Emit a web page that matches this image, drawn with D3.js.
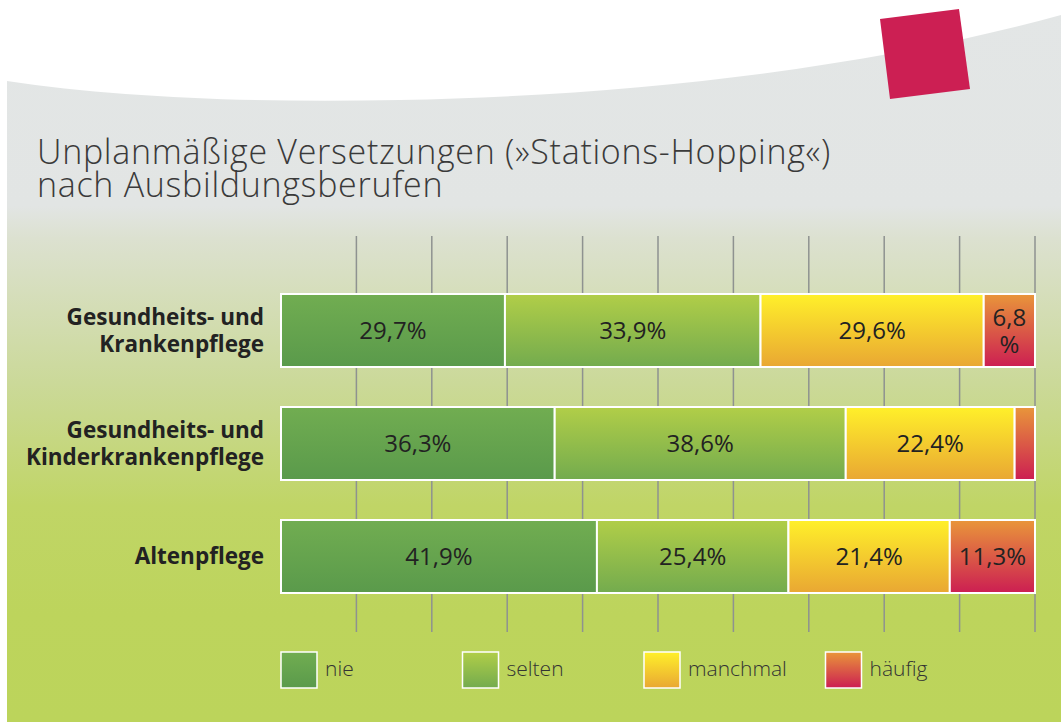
<!DOCTYPE html>
<html>
<head>
<meta charset="utf-8">
<script src="https://cdn.jsdelivr.net/npm/d3@7"></script>
<style>
  body { margin: 0; background: #fff; }
  svg { display: block; font-family: "Open Sans", "Noto Sans", sans-serif; }
</style>
</head>
<body>
<svg id="chart"></svg>
<script>
// data
var categories = ["Gesundheits- und Krankenpflege", "Gesundheits- und Kinderkrankenpflege", "Altenpflege"];
var catLines = [["Gesundheits- und", "Krankenpflege"], ["Gesundheits- und", "Kinderkrankenpflege"], ["Altenpflege"]];
var keys = ["nie", "selten", "manchmal", "häufig"];
var nie = [29.7, 36.3, 41.9];
var selten = [33.9, 38.6, 25.4];
var manchmal = [29.6, 22.4, 21.4];
var haeufig = [6.8, 2.7, 11.3];
var gridTicks = [10, 20, 30, 40, 50, 60, 70, 80, 90, 100];

var svgWidth = 1061;
var svgHeight = 722;

var colors = {
  "nie": ["#71ad51", "#5a9a4b"],
  "selten": ["#b1ce48", "#73ab4e"],
  "manchmal": ["#fff02a", "#e9a733"],
  "häufig": ["#e9963a", "#cc1e52"]
};

var svg = d3.select("#chart")
  .attr("width", svgWidth)
  .attr("height", svgHeight);

var defs = svg.append("defs");

// background gradient, grey at the top to green
var bg = defs.append("linearGradient")
  .attr("id", "bg")
  .attr("gradientUnits", "userSpaceOnUse")
  .attr("x1", 0).attr("y1", 0).attr("x2", 0).attr("y2", svgHeight);
[[0, "#e3e6e6"], [0.285, "#e2e5e4"], [0.33, "#dce1d0"], [0.53, "#cbd999"], [0.7, "#c0d566"], [0.85, "#bdd45c"], [1, "#bcd45b"]]
  .forEach(function(s) {
    bg.append("stop").attr("offset", s[0]).attr("stop-color", s[1]);
  });

keys.forEach(function(k, i) {
  var g = defs.append("linearGradient")
    .attr("id", "grad" + i)
    .attr("x1", 0).attr("y1", 0).attr("x2", 0).attr("y2", 1);
  g.append("stop").attr("offset", 0).attr("stop-color", colors[k][0]);
  g.append("stop").attr("offset", 1).attr("stop-color", colors[k][1]);
});

// curved panel
svg.append("path")
  .attr("d", "M7,81 C120,98 260,103 400,100 C650,95 880,65 1061,15 L1061,722 L7,722 Z")
  .attr("fill", "url(#bg)");

// red square top right
svg.append("path")
  .attr("d", "M880,19 L959,9 L970,89 L890,99 Z")
  .attr("fill", "#cc1f53");

// title
var title = svg.append("text")
  .attr("x", 37)
  .attr("y", 164)
  .attr("font-size", 34)
  .attr("font-weight", 300)
  .attr("letter-spacing", 0.7)
  .attr("fill", "#3a3a3a");
title.append("tspan").attr("x", 37).text("Unplanmäßige Versetzungen (»Stations-Hopping«)");
title.append("tspan").attr("x", 37).attr("dy", 33).text("nach Ausbildungsberufen");

// build rows for the stack
var rows = categories.map(function(c, i) {
  return { cat: c, "nie": nie[i], "selten": selten[i], "manchmal": manchmal[i], "häufig": haeufig[i] };
});
var series = d3.stack().keys(keys)(rows);

var x = d3.scaleLinear().domain([0, 100]).range([281, 1035]);
var y = d3.scaleBand()
  .domain(categories)
  .range([274, 613])
  .paddingInner(0.354)
  .paddingOuter(0.177);

// grid lines
svg.append("g")
  .selectAll("line")
  .data(gridTicks)
  .enter()
  .append("line")
  .attr("x1", d => x(d))
  .attr("x2", d => x(d))
  .attr("y1", 236)
  .attr("y2", 632)
  .attr("stroke", "#8e9290")
  .attr("stroke-width", 1.5);

// bars
var fmt = d3.format(".1f");
var layers = svg.append("g")
  .selectAll("g")
  .data(series)
  .enter()
  .append("g")
  .attr("fill", (d, i) => "url(#grad" + i + ")");

layers.selectAll("rect")
  .data(d => d.map(function(p) { p.key = d.key; return p; }))
  .enter()
  .append("rect")
  .attr("x", d => x(d[0]))
  .attr("y", d => y(d.data.cat))
  .attr("width", d => x(d[1]) - x(d[0]))
  .attr("height", y.bandwidth())
  .attr("stroke", "#ffffff")
  .attr("stroke-width", 2);

// value labels
layers.each(function(s) {
  var g = d3.select(this);
  s.forEach(function(p) {
    var w = x(p[1]) - x(p[0]);
    if (w < 30) return;
    var cx = (x(p[0]) + x(p[1])) / 2;
    var cy = y(p.data.cat) + y.bandwidth() / 2;
    var label = fmt(p[1] - p[0]).replace(".", ",");
    var t = g.append("text")
      .attr("text-anchor", "middle")
      .attr("font-size", 24)
      .attr("fill", "#222222");
    if (w < 75) {
      t.append("tspan").attr("x", cx).attr("y", cy - 5).text(label);
      t.append("tspan").attr("x", cx).attr("y", cy + 22).text("%");
    } else {
      t.attr("x", cx).attr("y", cy + 8.5).text(label + "%");
    }
  });
});

// category labels
categories.forEach(function(c, i) {
  var lines = catLines[i];
  var cy = y(c) + y.bandwidth() / 2;
  var t = svg.append("text")
    .attr("text-anchor", "end")
    .attr("font-size", 22.5)
    .attr("font-weight", "bold")
    .attr("fill", "#222222");
  var start = cy + 7.5 - (lines.length - 1) * 13.5;
  lines.forEach(function(l, j) {
    t.append("tspan").attr("x", 264).attr("y", start + j * 27).text(l);
  });
});

// legend
var legend = svg.append("g")
  .selectAll("g")
  .data(keys)
  .enter()
  .append("g")
  .attr("transform", (d, i) => `translate(${281 + i * 181.5}, 652)`);

legend.append("rect")
  .attr("width", 36)
  .attr("height", 36)
  .attr("fill", (d, i) => "url(#grad" + i + ")")
  .attr("stroke", "#ffffff")
  .attr("stroke-width", 1.5);

legend.append("text")
  .attr("x", 44)
  .attr("y", 24)
  .attr("font-size", 21)
  .attr("font-weight", 300)
  .attr("fill", "#333333")
  .text(d => d);
</script>
</body>
</html>
